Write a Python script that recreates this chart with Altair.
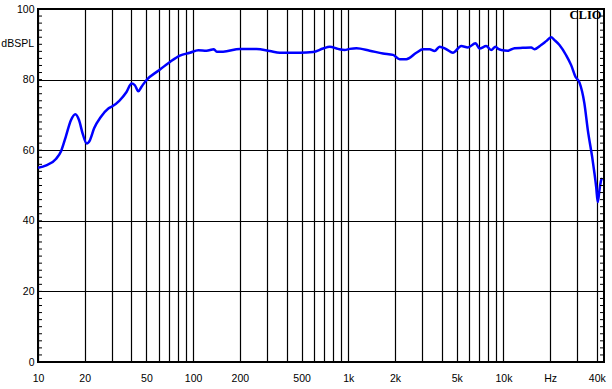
import altair as alt
import pandas as pd

# Frequency response (Hz, dBSPL)
freq = [10, 11.3, 13.1, 14.1, 15.1, 16.3, 17.4, 18.4, 19.4, 20.6, 21.6, 23.0, 25.4,
        28.4, 30.3, 33.4, 37.2, 40.1, 42.1, 44.3, 46.5, 50.1, 59.6, 70.9, 82.1,
        95.2, 108, 122, 136, 142, 156, 200, 256, 312, 362, 487, 593, 688, 759,
        858, 948, 1021, 1128, 1374, 1674, 1943, 2144, 2367, 2747, 3028, 3344,
        3600, 3880, 4285, 4726, 5349, 5903, 6612, 7016, 7747, 8343, 8890, 9337,
        9680, 10670, 11800, 13340, 15100, 15850, 17500, 18860, 20320, 21340,
        22980, 25370, 27330, 29130, 30900, 33280, 35000, 37330, 38640, 39620,
        40560, 41590, 42660, 43300]
spl = [55.0, 55.7, 57.6, 59.8, 63.8, 68.5, 70.2, 68.5, 64.7, 61.9, 62.8, 66.2, 69.4,
       71.8, 72.5, 74.0, 76.5, 78.9, 78.4, 76.7, 78.0, 79.9, 82.5, 85.0, 86.8,
       87.6, 88.3, 88.2, 88.6, 87.9, 87.9, 88.7, 88.7, 88.1, 87.6, 87.6, 87.8, 88.8, 89.3,
       88.7, 88.4, 88.7, 88.9, 88.2, 87.4, 87.0, 85.8, 85.8, 87.6, 88.6, 88.6,
       88.1, 89.3, 88.6, 87.6, 89.5, 89.1, 90.3, 88.8, 89.5, 88.4, 89.3, 88.6,
       88.4, 88.2, 88.9, 89.0, 89.1, 88.6, 89.8, 90.9, 92.0, 91.2,
       89.8, 86.9, 84.1, 80.8, 79.2, 73.2, 65.7, 58.1, 53.4, 49.6,
       45.3, 48.7, 51.5, 52.0]

x_grid = [10, 20, 30, 40, 50, 60, 70, 80, 90,
          100, 200, 300, 400, 500, 600, 700, 800, 900,
          1000, 2000, 3000, 4000, 5000, 6000, 7000, 8000, 9000,
          10000, 20000, 30000, 40000]
x_label_vals = [10, 20, 50, 100, 200, 500, 1000, 2000, 5000, 10000, 20000, 40000]
x_label_text = ["10", "20", "50", "100", "200", "500", "1k", "2k", "5k", "10k", "Hz", "40k"]

y_grid = [0, 10, 20, 30, 40, 50, 60, 70, 80, 90, 100]
y_label_vals = [0, 20, 40, 60, 80, 100]
y_label_text = ["0", "20", "40", "60", "80", "100"]
unit_label = ["dBSPL"]
unit_level = [90]
y_minor = [0, 2, 4, 6, 8, 10, 12, 14, 16, 18, 20, 22, 24, 26, 28, 30, 32, 34, 36, 38,
           40, 42, 44, 46, 48, 50, 52, 54, 56, 58, 60, 62, 64, 66, 68, 70, 72, 74, 76,
           78, 80, 82, 84, 86, 88, 90, 92, 94, 96, 98, 100]


def label_expr(vals, texts):
    expr = "''"
    for v, t in reversed(list(zip(vals, texts))):
        expr = f"datum.value == {v} ? '{t}' : ({expr})"
    return expr


W, H = 566, 353
FONT = "Liberation Sans"

xscale = alt.Scale(type="log", domain=[10, 44500], nice=False)
yscale = alt.Scale(domain=[0, 100], nice=False, zero=False)

xaxis = alt.Axis(values=x_grid, grid=True, gridColor="black", gridWidth=1.2, gridOpacity=1,
                 ticks=False, domain=False, labelExpr=label_expr(x_label_vals, x_label_text),
                 labelFont=FONT, labelFontSize=10.5, labelColor="black", labelPadding=11,
                 labelFlush=False, labelOverlap=False, title=None)
yaxis = alt.Axis(values=y_grid, grid=True, gridColor="black", gridWidth=1.2, gridOpacity=1,
                 ticks=False, domain=False, labelExpr=label_expr(y_label_vals, y_label_text),
                 labelFont=FONT, labelFontSize=10.5, labelColor="black", labelPadding=4,
                 labelFlush=False, labelOverlap=False, title=None)

curve_df = pd.DataFrame({"f": freq, "db": spl})
minor_df = pd.DataFrame({"db": y_minor})
unit_df = pd.DataFrame({"db": unit_level, "t": unit_label})

curve = alt.Chart(curve_df).mark_line(color="#0000FF", strokeWidth=2.5, clip=True,
                                      interpolate="monotone").encode(
    x=alt.X("f:Q", scale=xscale, axis=xaxis),
    y=alt.Y("db:Q", scale=yscale, axis=yaxis),
)

left_ticks = alt.Chart(minor_df).mark_rule(color="black", strokeWidth=1).encode(
    y=alt.Y("db:Q", scale=yscale, title=None),
    x=alt.value(0), x2=alt.value(4),
)
right_ticks = alt.Chart(minor_df).mark_rule(color="black", strokeWidth=1).encode(
    y=alt.Y("db:Q", scale=yscale, title=None),
    x=alt.value(W - 4), x2=alt.value(W),
)

unit = alt.Chart(unit_df).mark_text(
    font=FONT, fontSize=10.5, align="right", baseline="middle", color="black"
).encode(y=alt.Y("db:Q", scale=yscale, title=None), text="t:N", x=alt.value(-4))

brand = alt.Chart(pd.DataFrame({"t": ["CLIO"]})).mark_text(
    font="Liberation Serif", fontWeight="bold", fontSize=12.5, align="right",
    baseline="alphabetic", color="black"
).encode(text="t:N", x=alt.value(W - 2.5), y=alt.value(10.3))

chart = alt.layer(curve, left_ticks, right_ticks, unit, brand).properties(
    width=W, height=H,
    padding={"left": 38, "top": 9, "right": 8, "bottom": 27},
    autosize=alt.AutoSizeParams(type="none"),
    background="white",
).configure_view(stroke="black", strokeWidth=2)

chart.save("out.html", embed_options={"renderer": "svg", "actions": False})
